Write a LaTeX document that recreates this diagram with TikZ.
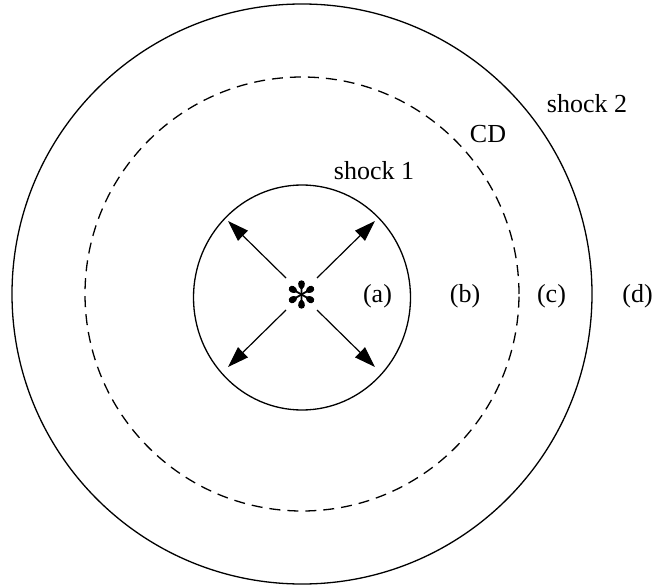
\documentclass[tikz,border=0pt]{standalone}
\usepackage{fontspec}
\setmainfont{Liberation Serif}
\usetikzlibrary{arrows.meta,shapes.geometric}
\begin{document}
\begin{tikzpicture}[x=1pt,y=-1pt,
  ring/.style={draw,line width=1.3pt,inner sep=0pt,outer sep=0pt},
  arr/.style={line width=1.2pt,-{Triangle[length=21pt,width=14pt]}},
  lbl/.style={anchor=base,inner sep=0pt,font=\fontsize{26}{30}\selectfont}]
\useasboundingbox (0,0) rectangle (653,586);
% shells
\node[ring,circle,minimum size=580pt] (outer) at (302,294) {};
\node[ring,circle,minimum size=434pt,dash pattern=on 11pt off 7pt] (cd) at (302,294) {};
\node[ring,ellipse,minimum width=217pt,minimum height=225pt] (inner) at (302,297.5) {};
% central star
\coordinate (star) at (301.5,294.5);
\foreach \a in {90,30,-30,-90,-150,150}{
  \fill[shift={(star)},rotate=\a] (0,-0.9) -- (5.5,-0.9) .. controls (8,-4.3) and (14.2,-4.3) .. (14.2,0)
     .. controls (14.2,4.3) and (8,4.3) .. (5.5,0.9) -- (0,0.9) -- cycle;
}
% arrows
\coordinate (s1) at (286,278); \coordinate (t1) at (228,221);
\coordinate (s2) at (317,278); \coordinate (t2) at (375,221);
\coordinate (s3) at (286,310); \coordinate (t3) at (228,367);
\coordinate (s4) at (317,310); \coordinate (t4) at (375,367);
\draw[arr] (s1) -- (t1);
\draw[arr] (s2) -- (t2);
\draw[arr] (s3) -- (t3);
\draw[arr] (s4) -- (t4);
% labels
\node[lbl] (lshock2) at (587,112) {shock 2};
\node[lbl] (lcd) at (488,142) {CD};
\node[lbl] (lshock1) at (374,179) {shock 1};
\node[lbl] (la) at (377.5,302) {(a)};
\node[lbl] (lb) at (465,302) {(b)};
\node[lbl] (lc) at (551.5,302) {(c)};
\node[lbl] (ld) at (637.5,302) {(d)};
\end{tikzpicture}
\end{document}
